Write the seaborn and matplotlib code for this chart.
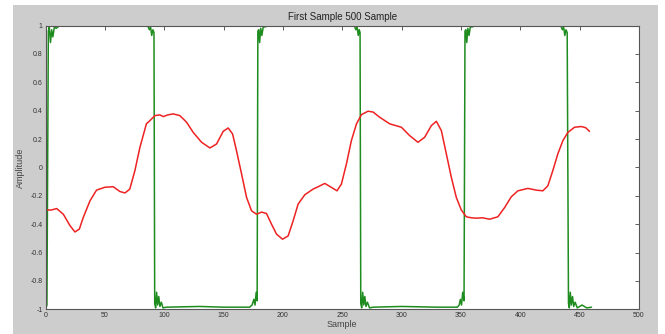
import numpy as np
import pandas as pd
import seaborn as sns
import matplotlib
matplotlib.use('Agg')
import matplotlib.pyplot as plt
from matplotlib.patches import Rectangle

# red trace
red_x = [0, 5, 9.4, 15, 20.6, 24.8, 28.5, 31.8, 37.5, 43, 50, 57, 62.7, 67, 71, 75.3,
         79.5, 85, 88, 92.2, 96.4, 99.2, 103, 107.6, 113.2, 118.9, 124.4, 131.5, 138.5,
         144.1, 149.7, 153.9, 157.6, 160.9, 165.2, 169.4, 173.6, 177.8, 182, 186.2,
         190.4, 194.6, 199.7, 204.4, 208.6, 212.8, 218.4, 225.4, 230, 235.3, 240.9,
         245.6, 249.3, 253.5, 257.7, 262, 266.2, 271.7, 276, 281.6, 290, 299.8, 306.8,
         313.8, 319.4, 325.1, 329.3, 333.5, 337.7, 341.9, 346.1, 350.3, 354.5, 358.7,
         362.9, 368, 374.2, 381.1, 386.8, 392.4, 398, 406.4, 413.4, 419, 423.2, 427.4,
         431.6, 435.9, 440.1, 445.7, 451.4, 455, 458.3]
red_y = [-0.30, -0.30, -0.29, -0.33, -0.41, -0.455, -0.435, -0.353, -0.235, -0.16, -0.14,
         -0.136, -0.17, -0.18, -0.153, -0.023, 0.14, 0.307, 0.33, 0.365, 0.37, 0.358, 0.37,
         0.377, 0.365, 0.318, 0.247, 0.177, 0.137, 0.165, 0.254, 0.278, 0.236, 0.118,
         -0.047, -0.212, -0.306, -0.33, -0.315, -0.325, -0.40, -0.47, -0.506, -0.483,
         -0.377, -0.259, -0.193, -0.153, -0.135, -0.113, -0.141, -0.165, -0.117, 0.024,
         0.189, 0.307, 0.372, 0.396, 0.39, 0.353, 0.307, 0.283, 0.224, 0.177, 0.212,
         0.295, 0.325, 0.259, 0.095, -0.07, -0.212, -0.30, -0.348, -0.355, -0.358,
         -0.355, -0.365, -0.348, -0.283, -0.207, -0.165, -0.148, -0.16, -0.165, -0.13,
         -0.023, 0.095, 0.189, 0.247, 0.283, 0.288, 0.28, 0.254]

# green square wave with ringing at the edges
green_x = [0, 1.2, 2.4, 3.2, 4.2, 5.2, 6.2, 7.5, 9, 12, 50,
           86, 87.5, 88.5, 89.5, 90.5, 91.4, 92.0, 92.8, 93.6, 94.5, 95.4, 96.4, 97.6, 99, 102,
           130, 150,
           172, 174, 175.5, 176.5, 177.5, 178.3, 178.9, 179.6, 180.4, 181.3, 182.3, 183.4, 185, 188,
           220, 240,
           260, 261.5, 262.5, 263.5, 264.3, 265.0, 265.6, 266.4, 267.2, 268.1, 269.0, 270.0, 271.2, 273, 276,
           300, 330,
           347, 348.5, 349.5, 350.5, 351.5, 352.6, 353.4, 354.1, 354.9, 355.8, 356.8, 357.9, 359.5, 362,
           400,
           434, 435.5, 436.5, 437.5, 438.5, 439.5, 440.6, 441.3, 442.1, 443.0, 444.0, 445.0, 446.2, 448,
           452, 456, 460]
green_y = [-1.0, -0.97, 0.96, 0.99, 0.88, 0.97, 0.92, 0.99, 0.98, 1.0, 0.995,
           1.0, 0.97, 0.99, 0.93, 0.97, 0.95, -0.96, -0.99, -0.88, -0.97, -0.91, -0.98, -0.95, -0.99, -0.985,
           -0.98, -0.985,
           -0.985, -0.97, -0.93, -0.97, -0.88, -0.94, 0.96, 0.97, 0.88, 0.98, 0.93, 0.99, 0.99, 1.0,
           0.995, 1.0,
           1.0, 0.97, 0.99, 0.93, 0.97, 0.95, -0.96, -0.99, -0.88, -0.97, -0.91, -0.98, -0.95, -0.99, -0.985,
           -0.98, -0.985,
           -0.985, -0.97, -0.93, -0.97, -0.88, -0.94, 0.96, 0.97, 0.88, 0.98, 0.93, 0.99, 0.99, 1.0,
           0.995,
           1.0, 0.97, 0.99, 0.93, 0.97, 0.95, -0.96, -0.99, -0.88, -0.97, -0.91, -0.98, -0.95, -0.99,
           -0.97, -0.99, -0.985]

x_ticks = [0, 50, 100, 150, 200, 250, 300, 350, 400, 450, 500]
y_ticks = [-1, -0.8, -0.6, -0.4, -0.2, 0, 0.2, 0.4, 0.6, 0.8, 1]
y_labels = ['-1', '-0.8', '-0.6', '-0.4', '-0.2', '0', '0.2', '0.4', '0.6', '0.8', '1']

green_df = pd.DataFrame({'Sample': green_x, 'Amplitude': green_y})
red_df = pd.DataFrame({'Sample': red_x, 'Amplitude': red_y})

sns.set_style('white')
plt.rcParams['font.family'] = ['Liberation Sans', 'DejaVu Sans']
plt.rcParams['xtick.direction'] = 'in'
plt.rcParams['ytick.direction'] = 'in'

fig = plt.figure(figsize=(6.65, 3.34), dpi=100)
fig.patch.set_facecolor('white')
# grey matlab-like window panel
fig.patches.append(Rectangle((12.7 / 665, 0), (658 - 12.7) / 665, 329 / 334,
                             transform=fig.transFigure, facecolor='#cdcdcd',
                             edgecolor='none', zorder=-5))
ax = fig.add_axes([45.5 / 665, (334 - 309.3) / 334, (639 - 45.5) / 665, (309.3 - 25.5) / 334])
ax.set_zorder(1)
ax.set_facecolor('white')

sns.lineplot(data=green_df, x='Sample', y='Amplitude', ax=ax, color='#1f8c1f',
             linewidth=1.1, estimator=None, sort=False)
sns.lineplot(data=red_df, x='Sample', y='Amplitude', ax=ax, color='#ee2222',
             linewidth=1.1, estimator=None, sort=False)

ax.set_xlim(0, 500)
ax.set_ylim(-1, 1)
ax.set_xticks(x_ticks)
ax.set_yticks(y_ticks)
ax.set_yticklabels(y_labels)
ax.tick_params(axis='both', labelsize=5, length=3, width=0.6, pad=2,
               top=True, right=True, colors='#444444', labelcolor='#333333')
for s in ax.spines.values():
    s.set_color('#555555')
    s.set_linewidth(0.8)

ax.set_title('First Sample 500 Sample', fontsize=7, color='#222222', pad=4)
ax.set_xlabel('Sample', fontsize=6.5, color='#444444', labelpad=1)
ax.set_ylabel('Amplitude', fontsize=6.5, color='#444444', labelpad=4)

fig.savefig('out.png', dpi=100, facecolor=fig.get_facecolor())
